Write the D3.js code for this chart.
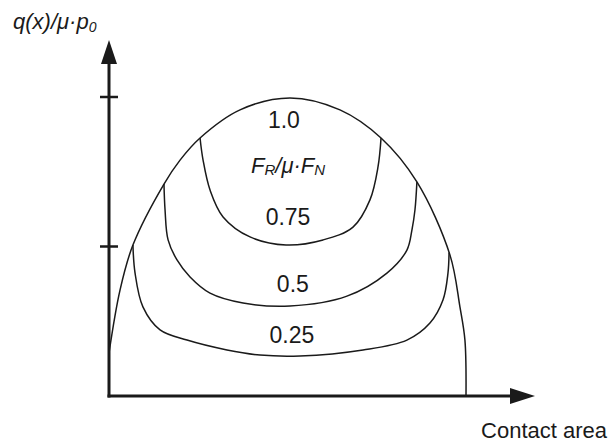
<!DOCTYPE html>
<html>
<head>
<meta charset="utf-8">
<script src="https://cdn.jsdelivr.net/npm/d3@7"></script>
<style>
  body { margin: 0; background: #fff; }
  text { font-family: "Liberation Sans", Arial, sans-serif; fill: #1a1a1a; }
</style>
</head>
<body>
<svg id="chart"></svg>
<script>
// contact position x/a and q(x)/mu*p0
var outerCurve = [
    [-1.00, 0.144], [-0.938, 0.355], [-0.866, 0.505], [-0.692, 0.709],
    [-0.602, 0.789], [-0.490, 0.863], [-0.266, 0.957], [0.014, 0.997],
    [0.294, 0.957], [0.524, 0.863], [0.725, 0.716], [0.910, 0.472],
    [0.966, 0.298], [0.994, 0.187], [1.00, 0.0]
];
var curve075 = [
    [-0.490, 0.863], [-0.473, 0.789], [-0.434, 0.689], [-0.361, 0.599],
    [-0.210, 0.532], [-0.008, 0.505], [0.199, 0.522], [0.367, 0.565],
    [0.462, 0.656], [0.507, 0.766], [0.524, 0.863]
];
var curve050 = [
    [-0.692, 0.709], [-0.686, 0.622], [-0.669, 0.522], [-0.619, 0.455],
    [-0.546, 0.398], [-0.434, 0.344], [-0.249, 0.311], [0.014, 0.301],
    [0.333, 0.334], [0.557, 0.411], [0.669, 0.488], [0.697, 0.555],
    [0.714, 0.622], [0.725, 0.716]
];
var curve025 = [
    [-0.866, 0.505], [-0.854, 0.411], [-0.810, 0.298], [-0.714, 0.221],
    [-0.563, 0.187], [-0.339, 0.154], [-0.154, 0.137], [0.070, 0.134],
    [0.423, 0.154], [0.669, 0.187], [0.798, 0.244], [0.871, 0.321],
    [0.899, 0.411], [0.905, 0.480]
];

var yTicks = [0.5, 1.0];

// ratio labels: [text, x/a, q]
var ratioLabels = [
    ["1.0", -0.02, 0.896],
    ["0.75", 0.003, 0.572],
    ["0.5", 0.03, 0.348],
    ["0.25", 0.025, 0.177]
];

var width = 611, height = 445;

var svg = d3.select("#chart")
            .attr("width", width)
            .attr("height", height);

var xScale = d3.scaleLinear().domain([-1, 1]).range([109, 466]);
var yScale = d3.scaleLinear().domain([0, 1]).range([396, 97]);

var line = d3.line()
             .x(d => xScale(d[0]))
             .y(d => yScale(d[1]))
             .curve(d3.curveCatmullRom.alpha(0.5));

// curves
[outerCurve, curve075, curve050, curve025].forEach(function(c) {
    svg.append("path")
       .attr("d", line(c))
       .attr("fill", "none")
       .attr("stroke", "#1a1a1a")
       .attr("stroke-width", 1.5);
});

// axes
var x0 = xScale(-1), y0 = yScale(0);
svg.append("line")
   .attr("x1", x0).attr("y1", y0 + 1.5)
   .attr("x2", x0).attr("y2", 60)
   .attr("stroke", "#1a1a1a").attr("stroke-width", 3);
svg.append("line")
   .attr("x1", x0 - 1.5).attr("y1", y0)
   .attr("x2", 515).attr("y2", y0)
   .attr("stroke", "#1a1a1a").attr("stroke-width", 3);

// arrow heads
svg.append("path")
   .attr("d", `M${x0},40 L${x0 + 8},64 L${x0 - 8},64 Z`)
   .attr("fill", "#1a1a1a");
svg.append("path")
   .attr("d", `M535,${y0} L510,${y0 - 8} L510,${y0 + 8} Z`)
   .attr("fill", "#1a1a1a");

// y ticks
svg.selectAll(".ytick")
   .data(yTicks)
   .enter()
   .append("line")
   .attr("class", "ytick")
   .attr("x1", x0 - 9).attr("x2", x0 + 9)
   .attr("y1", d => yScale(d)).attr("y2", d => yScale(d))
   .attr("stroke", "#1a1a1a").attr("stroke-width", 2.5);

// axis titles
var yTitle = svg.append("text")
                .attr("x", 13).attr("y", 29)
                .style("font-size", "22px")
                .style("font-style", "italic");
yTitle.append("tspan").text("q(x)/\u03bc\u00b7p");
yTitle.append("tspan").attr("dy", 3).style("font-size", "14px").text("0");

svg.append("text")
   .attr("x", 607).attr("y", 438)
   .attr("text-anchor", "end")
   .style("font-size", "22px")
   .text("Contact area");

// ratio labels
svg.selectAll(".ratio")
   .data(ratioLabels)
   .enter()
   .append("text")
   .attr("class", "ratio")
   .attr("x", d => xScale(d[1]))
   .attr("y", d => yScale(d[2]))
   .attr("text-anchor", "middle")
   .style("font-size", "23px")
   .text(d => d[0]);

var fLabel = svg.append("text")
                .attr("x", xScale(0.003)).attr("y", 173)
                .attr("text-anchor", "middle")
                .style("font-size", "22px")
                .style("font-style", "italic");
fLabel.append("tspan").text("F");
fLabel.append("tspan").attr("dy", 2).style("font-size", "15px").text("R");
fLabel.append("tspan").attr("dy", -2).text("/\u03bc\u00b7F");
fLabel.append("tspan").attr("dy", 2).style("font-size", "15px").text("N");
</script>
</body>
</html>
